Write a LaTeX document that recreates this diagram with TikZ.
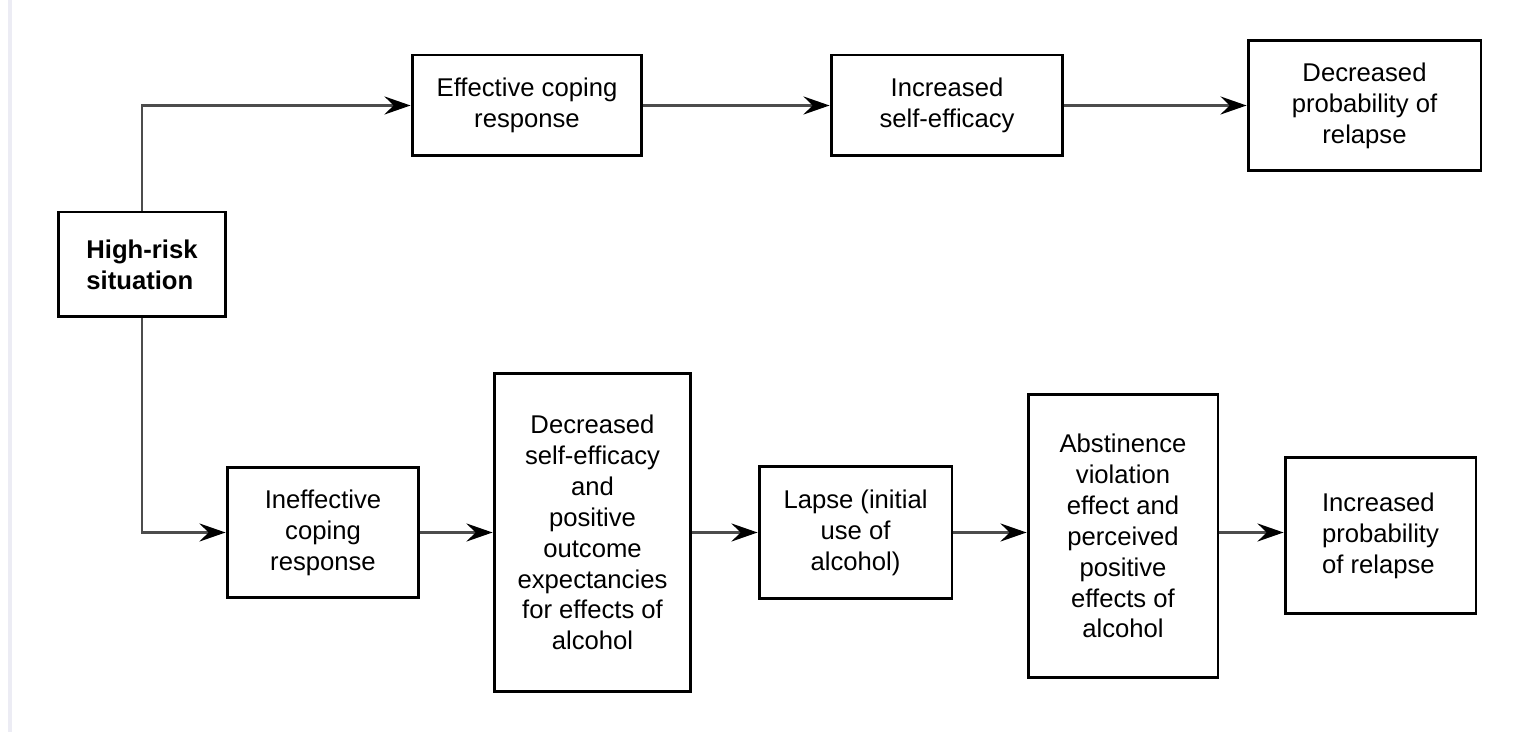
\documentclass[tikz,border=0pt]{standalone}
\usepackage{fontspec}
\setmainfont{Liberation Sans}
\usetikzlibrary{arrows.meta}
\definecolor{pageedge}{RGB}{236,236,244}
\begin{document}
\begin{tikzpicture}[x=0.02cm,y=-0.02cm,
  box/.style={draw, line width=1.7pt, align=center, inner sep=2pt,
    font=\fontsize{14.6}{17.6}\selectfont},
  arr/.style={-{Stealth[length=0.52cm,width=0.36cm,inset=0.18cm,black]}, line width=1.3pt, draw=black!70}]
\useasboundingbox (0,0) rectangle (1514,732);
\fill[pageedge] (8,0) rectangle (12,732);
\node[box, font=\fontsize{14.6}{17.6}\selectfont\bfseries, align=left, minimum width=3.36cm, minimum height=2.1cm] (risk) at (142,264.5) {High-risk\\situation};
\node[box, minimum width=4.6cm, minimum height=2.02cm] (eff) at (527,105.5) {Effective coping\\response};
\node[box, minimum width=4.64cm, minimum height=2.02cm] (incse) at (947,105.5) {Increased\\self-efficacy};
\node[box, minimum width=4.66cm, minimum height=2.6cm] (decprob) at (1364.5,105.5) {Decreased\\probability of\\relapse};
\node[box, minimum width=3.84cm, minimum height=2.62cm] (ineff) at (323,532.5) {Ineffective\\coping\\response};
\node[box, minimum width=3.94cm, minimum height=6.36cm] (decse) at (592.5,532.5) {Decreased\\self-efficacy\\and\\positive\\outcome\\expectancies\\for effects of\\alcohol};
\node[box, minimum width=3.86cm, minimum height=2.64cm] (lapse) at (855.5,532.5) {Lapse (initial\\use of\\alcohol)};
\node[box, minimum width=3.8cm, minimum height=5.68cm] (abst) at (1123,536) {Abstinence\\violation\\effect and\\perceived\\positive\\effects of\\alcohol};
\node[box, align=left, minimum width=3.82cm, minimum height=3.14cm] (incprob) at (1380.5,535.5) {Increased\\probability\\of relapse};
\draw[arr] (risk.north) |- (eff.west);
\draw[arr] (risk.south) |- (ineff.west);
\draw[arr] (eff) -- (incse);
\draw[arr] (incse.east) -- (incse.east -| decprob.west);
\draw[arr] (ineff) -- (decse);
\draw[arr] (decse) -- (lapse);
\draw[arr] (lapse.east) -- (lapse.east -| abst.west);
\draw[arr] (abst.east |- lapse.east) -- (lapse.east -| incprob.west);
\end{tikzpicture}
\end{document}
